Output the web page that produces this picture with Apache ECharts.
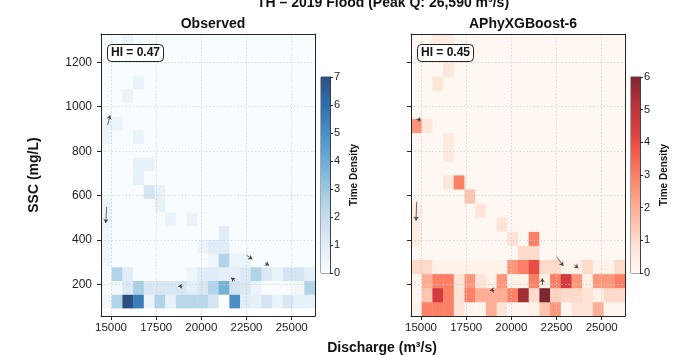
<!DOCTYPE html>
<html><head><meta charset="utf-8">
<script src="https://cdn.jsdelivr.net/npm/echarts@6/dist/echarts.min.js"></script>
<style>html,body{margin:0;padding:0;background:#fff}#c{width:696px;height:355px}</style>
</head><body><div id="c"></div>
<script>
// ---- data ----
const xRange = [14446, 26290];          // discharge bin range (m3/s), 20 bins
const obsYRange = [95, 1327];           // SSC bin range for observed (mg/L), 20 bins
const modYRange = [59, 1327];           // SSC bin range for model (mg/L), 20 bins
const nBins = 20;
const xTicks = [15000, 17500, 20000, 22500, 25000];
const yTicks = [200, 400, 600, 800, 1000, 1200];
const obsCbarTicks = [0, 7];
const modCbarTicks = [0, 6];
const hiObs = 'HI = 0.47';
const hiMod = 'HI = 0.45';

// time density per bin, rows from lowest SSC bin upward, columns from lowest discharge bin
const obsDensity = [
 [0.3,2.5,7,5.5,0.5,2.5,0.7,2.3,2.3,2.3,1.5,0,5,1,0.7,1.5,0.6,1.3,0.7,0.7],
 [0,0.3,1.2,2.7,1.3,1.3,1.3,1.3,0.8,1.3,2.5,3.8,1.5,1.2,0.6,0,0,0,0.3,2.5],
 [0,2.5,1,0,0,0,0,0,0.4,1,1,0.8,0.8,1.2,2.5,1.2,0.6,1.5,1.5,0.8],
 [0.4,0,0,0,0,0,0,0,0,0,0.4,2.5,0.5,0.5,0,0,0,0,0,0],
 [0.4,0,0,0,0,0,0,0,0,0.5,1,1,0,0,0,0,0,0,0,0],
 [0.4,0,0,0,0,0,0,0,0,0,0,1,0,0,0,0,0,0,0,0],
 [0.5,0,0,0,0,0,0.6,0,0.6,0,0,0,0,0,0,0,0,0,0,0],
 [0.5,0,0,0,0,0.7,0,0,0,0,0,0,0,0,0,0,0,0,0,0],
 [0,0,0,0,1.5,0.7,0,0,0,0,0,0,0,0,0,0,0,0,0,0],
 [0,0,0,0.7,0,0,0,0,0,0,0,0,0,0,0,0,0,0,0,0],
 [0,0,0,0.7,0.7,0,0,0,0,0,0,0,0,0,0,0,0,0,0,0],
 [0,0,0,0,0,0,0,0,0,0,0,0,0,0,0,0,0,0,0,0],
 [0.5,0,0,0.6,0,0,0,0,0,0,0,0,0,0,0,0,0,0,0,0],
 [0.5,0.5,0,0,0,0,0,0,0,0,0,0,0,0,0,0,0,0,0,0],
 [0,0,0,0,0,0,0,0,0,0,0,0,0,0,0,0,0,0,0,0],
 [0,0,0.6,0,0,0,0,0,0,0,0,0,0,0,0,0,0,0,0,0],
 [0,0,0,0.6,0,0,0,0,0,0,0,0,0,0,0,0,0,0,0,0],
 [0,0,0,0,0,0,0,0,0,0,0,0,0,0,0,0,0,0,0,0],
 [0,0,0,0,0,0,0,0,0,0,0,0,0,0,0,0,0,0,0,0],
 [0,0,0.6,0,0,0,0,0,0,0,0,0,0,0,0,0,0,0,0,0]
];
const modDensity = [
 [0.2,3,3,3,0.8,0.1,0.1,2,0.8,0.1,0.1,0.3,1.5,2.5,0.1,0.8,0.8,2,0.1,0.1],
 [0.1,1.5,4.5,3,0.8,3,2,2,2,3,5.5,1,6,1.2,1,1,0.8,0.3,1,1],
 [0.1,2,3,3,0.8,2.5,0.8,0.3,2.5,0.2,0.2,3,0.3,3,4.5,2.5,0.3,2.5,2.5,3],
 [1,1,0.2,0.2,0.2,0.2,0.2,0.2,0.2,2.5,3,4,1,1,0.2,0.2,1,0.2,0.2,1],
 [0,0,0,0,0,0,0,0,0,0,1,1,0,0,0,0,0,0,0,0],
 [0.5,0,0,0,0,0,0,0,0,0.8,0,3,0,0,0,0,0,0,0,0],
 [0.5,0,0,0,0,0,0,0,0.8,0,0,0,0,0,0,0,0,0,0,0],
 [0.5,0,0,0,0,0,0.8,0,0,0,0,0,0,0,0,0,0,0,0,0],
 [0,0,0,0,0,1.5,0,0,0,0,0,0,0,0,0,0,0,0,0,0],
 [0,0,0,0.7,3,0,0,0,0,0,0,0,0,0,0,0,0,0,0,0],
 [0,0,0,0,0,0,0,0,0,0,0,0,0,0,0,0,0,0,0,0],
 [0,0,0,0.6,0,0,0,0,0,0,0,0,0,0,0,0,0,0,0,0],
 [0,0,0,0.6,0,0,0,0,0,0,0,0,0,0,0,0,0,0,0,0],
 [2.5,0.7,0,0,0,0,0,0,0,0,0,0,0,0,0,0,0,0,0,0],
 [0,0,0,0,0,0,0,0,0,0,0,0,0,0,0,0,0,0,0,0],
 [0,0,0,0,0,0,0,0,0,0,0,0,0,0,0,0,0,0,0,0],
 [0,0,0.7,0,0,0,0,0,0,0,0,0,0,0,0,0,0,0,0,0],
 [0,0,0,0.7,0,0,0,0,0,0,0,0,0,0,0,0,0,0,0,0],
 [0,0,0,0,0,0,0,0,0,0,0,0,0,0,0,0,0,0,0,0],
 [0,0,0.5,0.5,0,0,0,0,0,0,0,0,0,0,0,0,0,0,0,0]
];
// trajectory arrows [[fromQ, fromSSC],[toQ, toSSC]]
const obsArrows = [
 [[14817,917],[14945,962]],
 [[14762,550],[14707,477]],
 [[18946,193],[18725,193]],
 [[21864,218],[21642,231]],
 [[22511,332],[22821,314]],
 [[23524,298],[23746,286]]
];
const modArrows = [
 [[14817,932],[14945,952]],
 [[14762,573],[14723,488]],
 [[19057,176],[18819,176]],
 [[21714,199],[21714,229]],
 [[22511,326],[22877,284]],
 [[23485,289],[23707,274]]
];

// ---- build ----
const blues = ['#f8fcff','#e3eef8','#cfe0f1','#add2e6','#81badc','#5ea2cf','#4286c0','#2d6bab','#2d4f81'];
const reds  = ['#fff7f2','#fee5d9','#fdc5af','#fda287','#fc8065','#f1584c','#d33b3f','#b33338','#7e2631'];

function cells(grid, yr) {
  const out = [];
  const dx = (xRange[1]-xRange[0])/nBins, dy = (yr[1]-yr[0])/nBins;
  grid.forEach((row, j) => row.forEach((v, i) => {
    out.push([xRange[0]+i*dx, xRange[0]+(i+1)*dx, yr[0]+j*dy, yr[0]+(j+1)*dy, v]);
  }));
  return out;
}
function renderCell(params, api) {
  const p0 = api.coord([api.value(0), api.value(3)]);
  const p1 = api.coord([api.value(1), api.value(2)]);
  return {type:'rect', shape:{x:p0[0], y:p0[1], width:p1[0]-p0[0]+0.4, height:p1[1]-p0[1]+0.4},
          style:{fill: api.visual('color')}};
}
function grad(cols) {
  return {type:'linear', x:0, y:1, x2:0, y2:0,
    colorStops: cols.map((c,k)=>({offset:k/(cols.length-1), color:c}))};
}
const FONT = 'Liberation Sans, Arial, sans-serif';
const axisCol = '#262626';
const plain = v => String(v);
function xAx(gi) {
  return {type:'value', gridIndex:gi, min:xRange[0], max:xRange[1], z:10,
    axisLine:{show:true, lineStyle:{color:axisCol, width:1}},
    axisTick:{show:true, customValues:xTicks, length:4, lineStyle:{color:axisCol}},
    axisLabel:{customValues:xTicks, formatter:plain, fontSize:11.5, color:'#222', fontFamily:FONT, margin:6},
    splitLine:{show:true, lineStyle:{color:'#cfcfcf', type:[1.5,2], width:0.8}}};
}
function yAx(gi, labels, name) {
  return {type:'value', gridIndex:gi, min:modYRange[0], max:modYRange[1], z:10,
    name: name || '', nameLocation:'middle', nameGap:60,
    nameTextStyle:{fontSize:14, fontWeight:'bold', color:'#111', fontFamily:FONT},
    axisLine:{show:true, lineStyle:{color:axisCol, width:1}},
    axisTick:{show:true, customValues:yTicks, length:4, lineStyle:{color:axisCol}},
    axisLabel:{show:labels, customValues:yTicks, formatter:plain, fontSize:12, color:'#222', fontFamily:FONT, margin:9},
    splitLine:{show:true, lineStyle:{color:'#cfcfcf', type:[1.5,2], width:0.8}}};
}
function frameX(gi){return {type:'value', gridIndex:gi, position:'top', min:xRange[0], max:xRange[1], z:10,
  axisLine:{show:true,lineStyle:{color:axisCol}}, axisTick:{show:false}, axisLabel:{show:false}, splitLine:{show:false}};}
function frameY(gi){return {type:'value', gridIndex:gi, position:'right', min:modYRange[0], max:modYRange[1], z:10,
  axisLine:{show:true,lineStyle:{color:axisCol}}, axisTick:{show:false}, axisLabel:{show:false}, splitLine:{show:false}};}
function cbarY(gi, ticks) {
  return {type:'value', gridIndex:gi, position:'right', min:ticks[0], max:ticks[1], interval:1, z:10,
    name:'Time Density', nameLocation:'middle', nameGap:19,
    nameTextStyle:{fontSize:10, fontWeight:'bold', color:'#111', fontFamily:FONT},
    axisLine:{show:true, lineStyle:{color:axisCol, width:0.8}},
    axisTick:{show:true, length:3, lineStyle:{color:axisCol}},
    axisLabel:{fontSize:11, color:'#222', fontFamily:FONT, margin:4},
    splitLine:{show:false}};
}
function arrowSeries(arr, xi, yi) {
  return {type:'lines', coordinateSystem:'cartesian2d', xAxisIndex:xi, yAxisIndex:yi, z:5,
    symbol:['none','arrow'], symbolSize:4,
    lineStyle:{color:'#444', width:0.8, opacity:1},
    data: arr.map(a=>({coords:a}))};
}

const chart = echarts.init(document.getElementById('c'), null, {renderer:'canvas'});
chart.setOption({
  animation:false,
  backgroundColor:'#fff',
  title:[
    {text:'TH – 2019 Flood (Peak Q: 26,590 m³/s)', left:378, top:-9, textAlign:'center',
     textStyle:{fontSize:14, fontWeight:'bold', color:'#111', fontFamily:FONT}},
    {text:'Observed', left:208, top:12, textAlign:'center',
     textStyle:{fontSize:14, fontWeight:'bold', color:'#111', fontFamily:FONT}},
    {text:'APhyXGBoost-6', left:518, top:12, textAlign:'center',
     textStyle:{fontSize:14, fontWeight:'bold', color:'#111', fontFamily:FONT}},
    {text:'Discharge (m³/s)', left:377, top:336, textAlign:'center',
     textStyle:{fontSize:14, fontWeight:'bold', color:'#111', fontFamily:FONT}},
    {text:hiObs, left:107, top:44, padding:[3,4], borderWidth:1, borderColor:'#222', borderRadius:4,
     backgroundColor:'#fff', z:20, textStyle:{fontSize:12, fontWeight:'bold', color:'#111', fontFamily:FONT}},
    {text:hiMod, left:417, top:44, padding:[3,4], borderWidth:1, borderColor:'#222', borderRadius:4,
     backgroundColor:'#fff', z:20, textStyle:{fontSize:12, fontWeight:'bold', color:'#111', fontFamily:FONT}}
  ],
  grid:[
    {left:101, top:34, width:214, height:282},
    {left:411, top:34, width:214, height:282},
    {left:321, top:77, width:9, height:196, show:true, borderColor:axisCol, borderWidth:0.8},
    {left:631, top:77, width:9, height:196, show:true, borderColor:axisCol, borderWidth:0.8}
  ],
  xAxis:[xAx(0), xAx(1),
    {type:'category', gridIndex:2, data:['c'], show:false},
    {type:'category', gridIndex:3, data:['c'], show:false},
    frameX(0), frameX(1)],
  yAxis:[yAx(0, true, 'SSC (mg/L)'), yAx(1, false),
    cbarY(2, obsCbarTicks), cbarY(3, modCbarTicks),
    frameY(0), frameY(1)],
  visualMap:[
    {type:'continuous', show:false, seriesIndex:0, dimension:4, min:obsCbarTicks[0], max:obsCbarTicks[1], inRange:{color:blues}},
    {type:'continuous', show:false, seriesIndex:1, dimension:4, min:modCbarTicks[0], max:modCbarTicks[1], inRange:{color:reds}}
  ],
  series:[
    {type:'custom', xAxisIndex:0, yAxisIndex:0, renderItem:renderCell, data:cells(obsDensity, obsYRange),
     encode:{x:[0,1], y:[2,3]}, z:2},
    {type:'custom', xAxisIndex:1, yAxisIndex:1, renderItem:renderCell, data:cells(modDensity, modYRange),
     encode:{x:[0,1], y:[2,3]}, z:2},
    {type:'bar', xAxisIndex:2, yAxisIndex:2, data:[obsCbarTicks[1]], barWidth:'100%', itemStyle:{color:grad(blues)}},
    {type:'bar', xAxisIndex:3, yAxisIndex:3, data:[modCbarTicks[1]], barWidth:'100%', itemStyle:{color:grad(reds)}},
    arrowSeries(obsArrows, 0, 0),
    arrowSeries(modArrows, 1, 1)
  ]
});
</script></body></html>
